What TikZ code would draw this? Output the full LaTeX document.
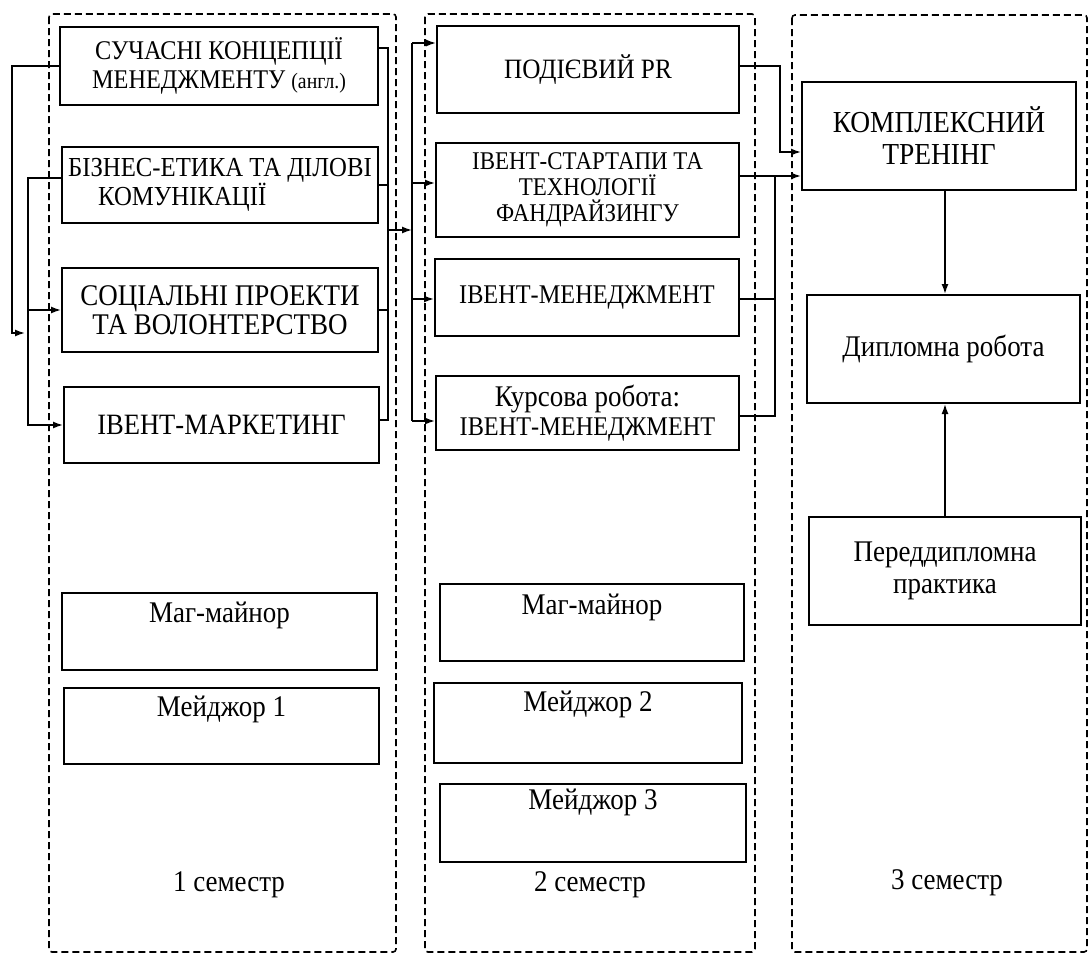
\documentclass[tikz,border=0pt]{standalone}
\usepackage{fontspec}
\setmainfont[FakeStretch=0.9]{Liberation Serif}
\usetikzlibrary{arrows.meta}
\begin{document}
\begin{tikzpicture}[x=1pt,y=-1pt,
  box/.style={draw, line width=2pt, inner sep=0pt, align=center, font=\fontsize{27}{29}\selectfont},
  lbl/.style={inner sep=0pt, font=\fontsize{30}{32}\selectfont},
  cont/.style={draw, line width=1.6pt, dash pattern=on 7pt off 4pt, rounded corners=3pt},
  conn/.style={line width=1.5pt},
  arr/.style={conn, -{Latex[length=10pt,width=7pt]}}]
\useasboundingbox (0,0) rectangle (1090,956);
\fill[white] (0,0) rectangle (1090,956);
% semester containers
\draw[cont] (49,14) rectangle (396,952);
\draw[cont] (425,14) rectangle (755,952);
\draw[cont] (792,15) rectangle (1087,952);
% column 1
\node[box, minimum width=318pt, minimum height=78pt] (A) at (219,66) {СУЧАСНІ КОНЦЕПЦІЇ\\МЕНЕДЖМЕНТУ {\fontsize{22}{24}\selectfont(англ.)}};
\node[box, align=left, minimum width=316pt, minimum height=76pt, font=\fontsize{27.5}{29}\selectfont] (B) at (220,185) {БІЗНЕС-ЕТИКА ТА ДІЛОВІ\\\hspace*{30pt}КОМУНІКАЦІЇ};
\node[box, minimum width=316pt, minimum height=84pt, font=\fontsize{30}{29}\selectfont] (C) at (220,310) {СОЦІАЛЬНІ ПРОЕКТИ\\ТА ВОЛОНТЕРСТВО};
\node[box, minimum width=315pt, minimum height=76pt, font=\fontsize{29.5}{30}\selectfont] (D) at (221.5,425) {ІВЕНТ-МАРКЕТИНГ};
\node[box, minimum width=315pt, minimum height=77pt] (mm1) at (219.5,631.5) {};
\node[lbl, anchor=north] (mm1t) at ([yshift=-10pt]mm1.north) {Маг-майнор};
\node[box, minimum width=315pt, minimum height=76pt] (mj1) at (221.5,726) {};
\node[lbl, anchor=north] (mj1t) at ([yshift=-9pt]mj1.north) {Мейджор 1};
\node[lbl] (sem1) at (229,885) {1 семестр};
% column 2
\node[box, minimum width=302pt, minimum height=87pt, font=\fontsize{28}{30}\selectfont] (P) at (588,69.5) {ПОДІЄВИЙ PR};
\node[box, minimum width=303pt, minimum height=94pt, font=\fontsize{25.5}{26}\selectfont] (S) at (587.5,190) {ІВЕНТ-СТАРТАПИ ТА\\ТЕХНОЛОГІЇ\\ФАНДРАЙЗИНГУ};
\node[box, minimum width=304pt, minimum height=77pt] (M) at (587,297.5) {ІВЕНТ-МЕНЕДЖМЕНТ};
\node[box, minimum width=303pt, minimum height=74pt] (K) at (587.5,413) {{\fontsize{30}{29}\selectfont Курсова робота:}\\ІВЕНТ-МЕНЕДЖМЕНТ};
\node[box, minimum width=304pt, minimum height=77pt] (mm2) at (592,622.5) {};
\node[lbl, anchor=north] (mm2t) at ([yshift=-11pt]mm2.north) {Маг-майнор};
\node[box, minimum width=308pt, minimum height=80pt] (mj2) at (588,723) {};
\node[lbl, anchor=north] (mj2t) at ([yshift=-9pt]mj2.north) {Мейджор 2};
\node[box, minimum width=306pt, minimum height=78pt] (mj3) at (593,823) {};
\node[lbl, anchor=north] (mj3t) at ([yshift=-6pt]mj3.north) {Мейджор 3};
\node[lbl] (sem2) at (590,885) {2 семестр};
% column 3
\node[box, minimum width=274pt, minimum height=108pt, font=\fontsize{30.5}{32}\selectfont] (T) at (939,136) {КОМПЛЕКСНИЙ\\ТРЕНІНГ};
\node[box, minimum width=273pt, minimum height=108pt, font=\fontsize{30}{32}\selectfont] (DR) at (943.5,349) {Дипломна робота};
\node[box, minimum width=272pt, minimum height=108pt, font=\fontsize{30}{32}\selectfont] (PD) at (945,571) {Переддипломна\\практика};
\node[lbl] (sem3) at (947,883) {3 семестр};
% left connectors
\coordinate (la) at (12,333);
\coordinate (lae) at (25,333);
\draw[arr] (A.west) -| (la) -- (lae);
\coordinate (lbus) at (28,0);
\draw[arr] ([yshift=7pt]B.west) -| (D.west -| lbus) -- (D.west);
\draw[arr] (C.west -| lbus) -- (C.west);
% bus 1 (right of column 1)
\coordinate (rbus1) at (388,0);
\draw[conn] ([yshift=18pt]A.east) -| ([yshift=5pt]D.east -| rbus1) -- ([yshift=5pt]D.east);
\draw[conn] (B.east) -- (B.east -| rbus1);
\draw[conn] (C.east) -- (C.east -| rbus1);
% bus 2 (left of column 2)
\coordinate (j1) at (388,230);
\coordinate (p2) at (412,43);
\coordinate (s2) at (412,183);
\coordinate (m2) at (412,299);
\coordinate (k2) at (412,421);
\draw[arr] (j1) -- (j1 -| p2);
\draw[conn] (p2) -- (k2);
\draw[arr] (p2) -- (p2 -| P.west);
\draw[arr] (s2) -- (s2 -| S.west);
\draw[arr] (m2) -- (m2 -| M.west);
\draw[arr] (k2) -- (k2 -| K.west);
% right of column 2
\draw[arr] ([yshift=3.5pt]P.east) -| ([xshift=-21pt,yshift=-16pt]T.west) -- ([yshift=-16pt]T.west);
\draw[arr] ([yshift=14pt]S.east) -- ([yshift=-40pt]T.west);
\coordinate (b3) at (775,176);
\draw[conn] (b3) |- ([yshift=-3pt]K.east);
\draw[conn] ([yshift=-1.5pt]M.east) -- ([yshift=-1.5pt]M.east -| b3);
% column 3
\draw[arr] (T.south -| PD.north) -- (DR.north -| PD.north);
\draw[arr] (PD.north) -- (DR.south -| PD.north);
\end{tikzpicture}
\end{document}
